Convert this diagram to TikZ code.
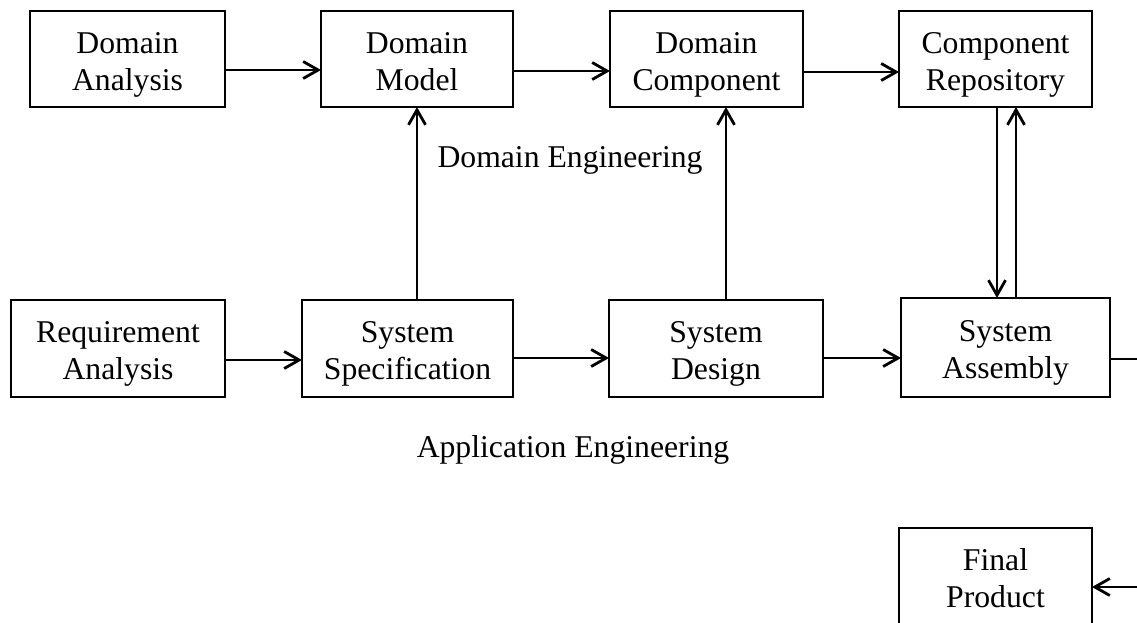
\documentclass[tikz,border=0pt]{standalone}
\usepackage{fontspec}
\setmainfont{Liberation Serif}
\usetikzlibrary{arrows.meta}
\newcommand{\mytl}{\rule{0pt}{34pt}}
\newcommand{\mybl}{\rule[-9pt]{0pt}{9pt}}
\newcommand{\twol}[2]{\mytl #1\\#2\mybl}
\begin{document}
\begin{tikzpicture}[x=1pt,y=-1pt,
  box/.style={draw, line width=2.8pt, inner sep=0pt, outer sep=0pt, align=center,
    minimum height=96pt, font=\fontsize{31.7}{37}\selectfont},
  lbl/.style={anchor=base, inner sep=0pt, font=\fontsize{31.7}{37}\selectfont},
  arr/.style={line width=2.8pt, -{Straight Barb[length=15pt,width=17pt,line width=2.8pt]}},
  ln/.style={line width=2.8pt}]
\useasboundingbox (0,0) rectangle (1137,622);
% top row
\node[box, minimum width=195pt] (DA) at (127.5,59) {\twol{Domain}{Analysis}};
\node[box, minimum width=192pt] (DM) at (417,59) {\twol{Domain}{Model}};
\node[box, minimum width=193pt] (DC) at (706.5,59) {\twol{Domain}{Component}};
\node[box, minimum width=193pt] (CR) at (995.5,59) {\twol{Component}{Repository}};
% bottom row
\node[box, minimum width=214pt, minimum height=97pt] (RA) at (118,348.5) {\twol{Requirement}{Analysis}};
\node[box, minimum width=211pt, minimum height=97pt] (SS) at (407.5,348.5) {\twol{System}{Specification}};
\node[box, minimum width=214pt, minimum height=97pt] (SD) at (716,348.5) {\twol{System}{Design}};
\node[box, minimum width=209pt, minimum height=99pt] (SA) at (1005.5,347.5) {\twol{System}{Assembly}};
\node[box, minimum width=193pt, minimum height=97pt] (FP) at (995.5,576.5) {\twol{Final}{Product}};
% labels
\node[lbl] (DE) at (570,167) {Domain Engineering};
\node[lbl] (AE) at (573,457) {Application Engineering};
% horizontal arrows
\draw[arr] (DA.east |- 0,70) -- (DM.west |- 0,70);
\draw[arr] (DM.east |- 0,71) -- (DC.west |- 0,71);
\draw[arr] (DC.east |- 0,72) -- (CR.west |- 0,72);
\draw[arr] (RA.east |- 0,360) -- (SS.west |- 0,360);
\draw[arr] (SS.east |- 0,358) -- (SD.west |- 0,358);
\draw[arr] (SD.east |- 0,358) -- (SA.west |- 0,358);
% vertical arrows
\draw[arr] (417,0 |- SS.north) -- (417,0 |- DM.south);
\draw[arr] (726,0 |- SD.north) -- (726,0 |- DC.south);
\draw[arr] (997,0 |- CR.south) -- (997,0 |- SA.north);
\draw[arr] (1016,0 |- SA.north) -- (1016,0 |- CR.south);
% to final product (route runs outside the visible frame)
\coordinate (R1) at (1170,359);
\coordinate (R2) at (1170,587);
\draw[arr] (SA.east |- 0,359) -- (R1) -- (R2) -- (FP.east |- 0,587);
\end{tikzpicture}
\end{document}
